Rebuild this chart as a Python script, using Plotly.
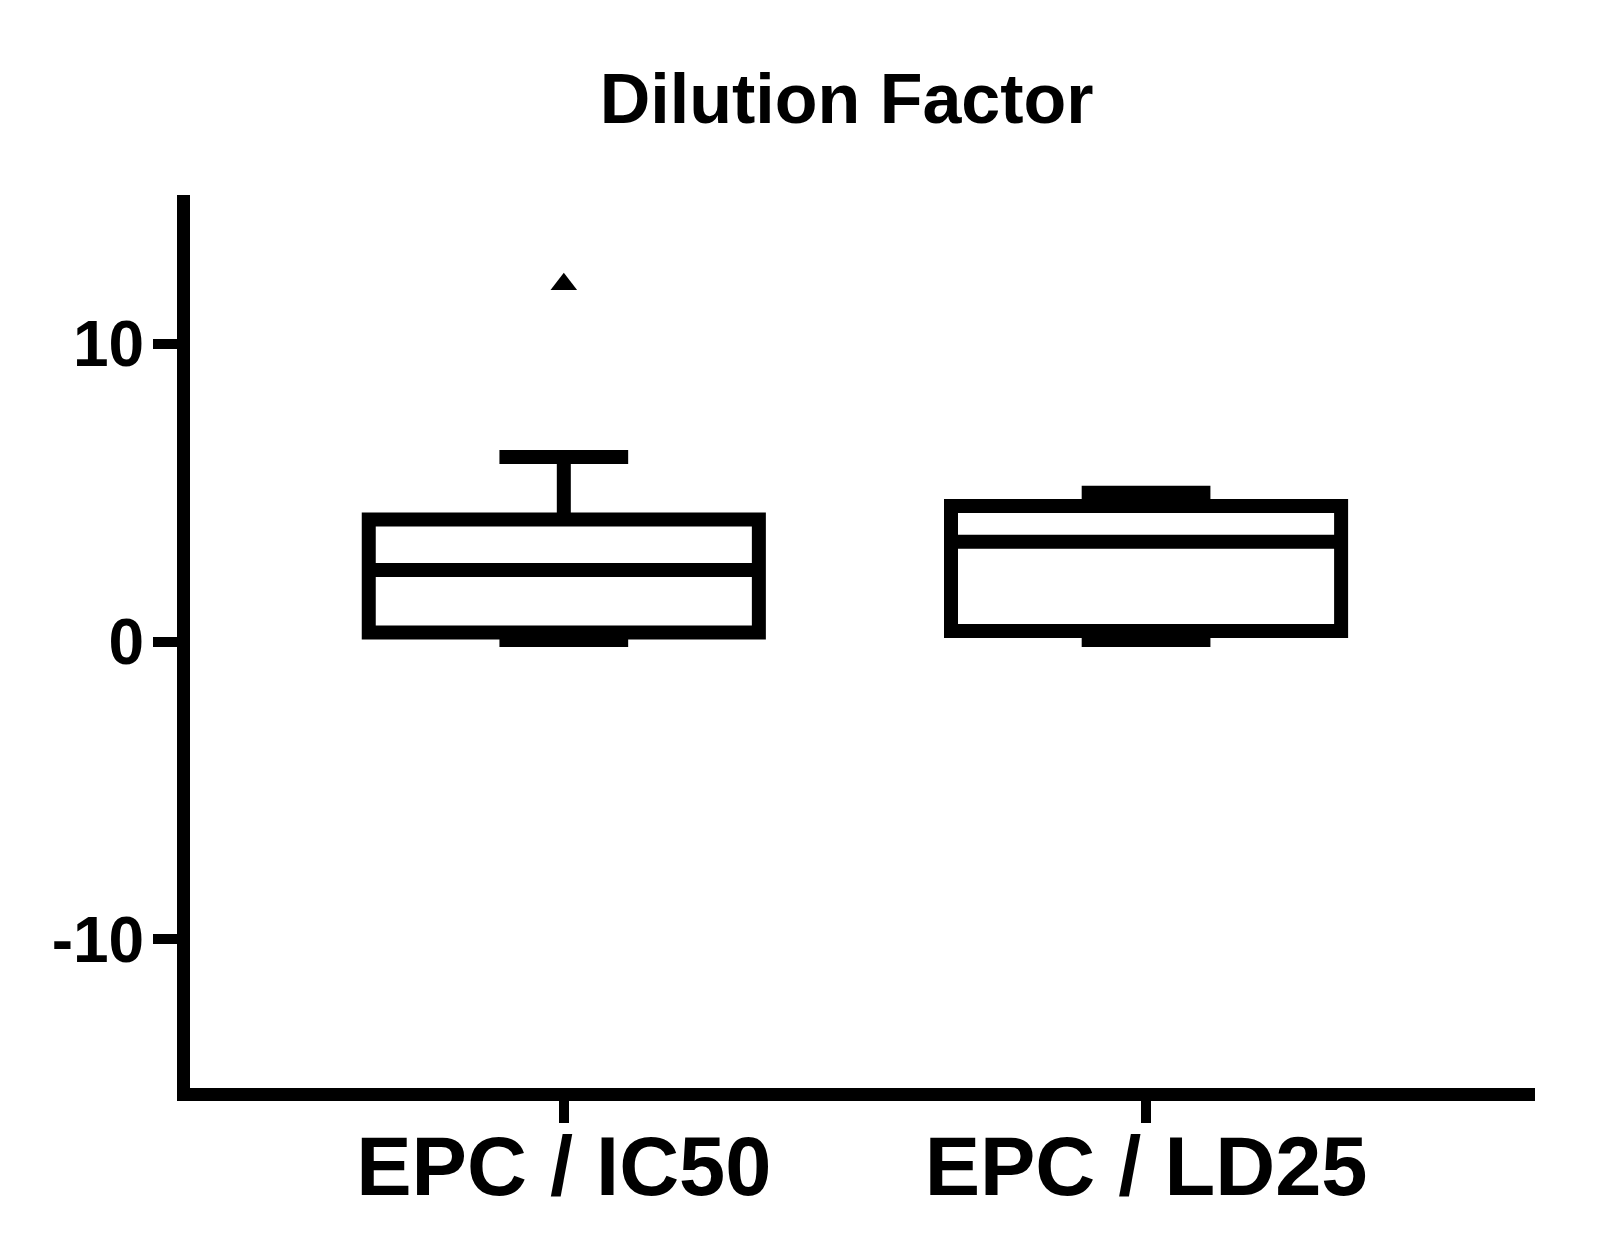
import plotly.graph_objects as go

# Box summary values
groups = ['EPC / IC50', 'EPC / LD25']
lower_fence = [0.05, 0.05]
q1 = [0.3, 0.35]
median = [2.4, 3.35]
q3 = [4.1, 4.55]
upper_fence = [6.2, 5.0]

# Outlier points
outlier_group = ['EPC / IC50']
outlier_value = [12.0]

y_ticks = [-10, 0, 10]
y_tick_text = ['<b>-10</b>', '<b>0</b>', '<b>10</b>']

FONT = 'Liberation Sans, Arial, sans-serif'

fig = go.Figure()

fig.add_trace(go.Box(
    x=groups,
    q1=q1,
    median=median,
    q3=q3,
    lowerfence=lower_fence,
    upperfence=upper_fence,
    boxpoints=False,
    width=0.67,
    whiskerwidth=0.33,
    fillcolor='white',
    line=dict(color='black', width=14),
    showlegend=False,
))

fig.add_trace(go.Scatter(
    x=outlier_group,
    y=outlier_value,
    mode='markers',
    marker=dict(symbol='triangle-up', size=23, color='black'),
    showlegend=False,
))

fig.update_layout(
    width=1615,
    height=1246,
    plot_bgcolor='white',
    paper_bgcolor='white',
    margin=dict(l=182, r=88, t=187, b=166),
    title=dict(
        text='<b>Dilution Factor</b>',
        x=0.5193, xanchor='center',
        y=0.927, yanchor='middle',
        font=dict(family=FONT, size=70, color='black'),
    ),
    font=dict(family=FONT, color='black'),
)

fig.update_xaxes(
    type='category',
    range=[-0.642, 1.668],
    showline=True, linecolor='black', linewidth=13,
    showgrid=False, zeroline=False,
    ticks='outside', ticklen=22, tickwidth=10, tickcolor='black',
    tickfont=dict(family=FONT, size=83, color='black'),
    tickprefix='<b>', ticksuffix='</b>',
    ticklabelstandoff=-28,
)

fig.update_yaxes(
    range=[-15, 15],
    tickvals=y_ticks,
    ticktext=y_tick_text,
    showline=True, linecolor='black', linewidth=13,
    showgrid=False, zeroline=False,
    ticks='outside', ticklen=24, tickwidth=10, tickcolor='black',
    tickfont=dict(family=FONT, size=64, color='black'),
    ticklabelstandoff=-4,
)

fig.write_html('out.html')
